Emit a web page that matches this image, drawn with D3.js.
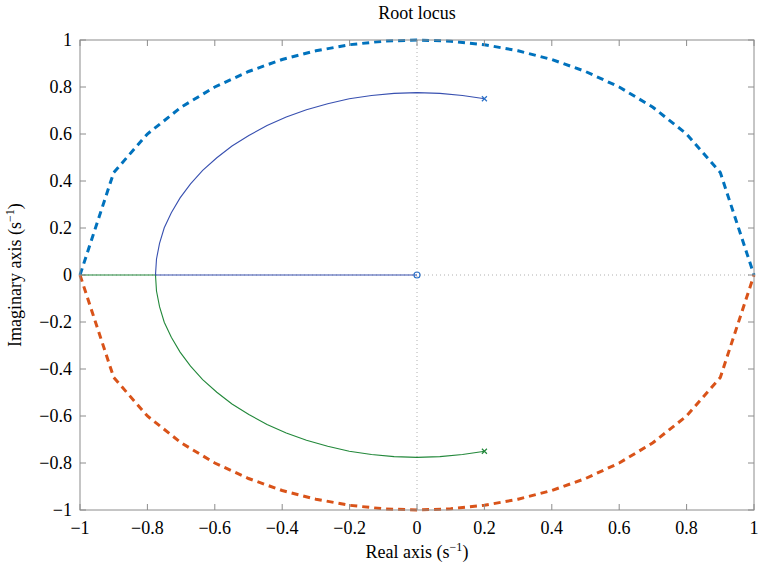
<!DOCTYPE html>
<html><head><meta charset="utf-8">
<script src="https://cdn.jsdelivr.net/npm/d3@7"></script>
<style>body{margin:0;background:#fff}svg{display:block}text{font-family:"Liberation Serif","DejaVu Serif",serif}</style>
</head><body><svg id="c" width="758" height="572"></svg>
<script>
// Unit circle (dashed), sampled at x step 0.1
const circX = [-1,-0.9,-0.8,-0.7,-0.6,-0.5,-0.4,-0.3,-0.2,-0.1,0,0.1,0.2,0.3,0.4,0.5,0.6,0.7,0.8,0.9,1];
const circUpper = [0,0.436,0.6,0.714,0.8,0.866,0.917,0.954,0.98,0.995,1,0.995,0.98,0.954,0.917,0.866,0.8,0.714,0.6,0.436,0];
const circLower = [0,-0.436,-0.6,-0.714,-0.8,-0.866,-0.917,-0.954,-0.98,-0.995,-1,-0.995,-0.98,-0.954,-0.917,-0.866,-0.8,-0.714,-0.6,-0.436,0];
// Arc of the locus (upper half)
const arcRe = [0.201,0.135,0.068,0,-0.068,-0.135,-0.201,-0.265,-0.328,-0.388,-0.445,-0.499,-0.549,-0.594,-0.636,-0.672,-0.703,-0.729,-0.750,-0.764,-0.773,-0.776];
const arcIm = [0.750,0.764,0.773,0.776,0.773,0.764,0.750,0.729,0.703,0.672,0.636,0.594,0.549,0.499,0.445,0.388,0.328,0.265,0.201,0.135,0.068,0];
// Branch 1: upper pole -> breakaway -> zero at origin
const branch1Re = arcRe.concat([-0.6,-0.4,-0.2,0]);
const branch1Im = arcIm.concat([0,0,0,0]);
// Branch 2: lower pole -> breakaway -> towards -inf
const branch2Re = arcRe.concat([-0.9,-1]);
const branch2Im = arcIm.map(v=>-v).concat([0,0]);
const polesRe = [0.2,0.2], polesIm = [0.75,-0.75];
const zerosRe = [0], zerosIm = [0];
const xTicks = [-1,-0.8,-0.6,-0.4,-0.2,0,0.2,0.4,0.6,0.8,1];
const yTicks = [-1,-0.8,-0.6,-0.4,-0.2,0,0.2,0.4,0.6,0.8,1];

const L=80,R=754,T=40,B=510;
const svg=d3.select("#c");
const x=d3.scaleLinear().domain([-1,1]).range([L,R]);
const y=d3.scaleLinear().domain([-1,1]).range([B,T]);
const fmt2=d=>{if(d===0)return"0";return (d<0?"\u2212":"")+String(Math.abs(d));};

// grid dotted
svg.append("line").attr("x1",x(0)).attr("x2",x(0)).attr("y1",T).attr("y2",B).attr("stroke","#b0b0b0").attr("stroke-dasharray","1,3");
svg.append("line").attr("x1",L).attr("x2",R).attr("y1",y(0)).attr("y2",y(0)).attr("stroke","#b0b0b0").attr("stroke-dasharray","1,3");

const line=d3.line().x(d=>x(d[0])).y(d=>y(d[1]));
const g=svg.append("g");
g.append("path").datum(branch2Re.map((v,i)=>[v,branch2Im[i]])).attr("d",line).attr("fill","none").attr("stroke","#22883a").attr("stroke-width",1.1);
g.append("path").datum(branch1Re.map((v,i)=>[v,branch1Im[i]])).attr("d",line).attr("fill","none").attr("stroke","#3850b0").attr("stroke-width",1.1);
g.append("path").datum(circX.map((v,i)=>[v,circUpper[i]])).attr("d",line).attr("fill","none").attr("stroke","#0072BD").attr("stroke-width",3).attr("stroke-dasharray","7,5");
g.append("path").datum(circX.map((v,i)=>[v,circLower[i]])).attr("d",line).attr("fill","none").attr("stroke","#D95319").attr("stroke-width",3).attr("stroke-dasharray","7,5");

// poles
const pc=["#2a70c8","#22883a"];
polesRe.forEach((v,i)=>{
  const cx=x(v),cy=y(polesIm[i]),s=2.5;
  svg.append("path").attr("d",`M${cx-s},${cy-s}L${cx+s},${cy+s}M${cx-s},${cy+s}L${cx+s},${cy-s}`).attr("stroke",pc[i]).attr("stroke-width",1.2);
});
zerosRe.forEach((v,i)=>{
  svg.append("circle").attr("cx",x(v)).attr("cy",y(zerosIm[i])).attr("r",3).attr("fill","none").attr("stroke","#2a70c8").attr("stroke-width",1.2);
});

// box and ticks
const ax="#8c8c8c";
svg.append("rect").attr("x",L).attr("y",T).attr("width",R-L).attr("height",B-T).attr("fill","none").attr("stroke",ax).attr("stroke-width",1);
xTicks.forEach(t=>{
  svg.append("line").attr("x1",x(t)).attr("x2",x(t)).attr("y1",B).attr("y2",B-6).attr("stroke",ax);
  svg.append("line").attr("x1",x(t)).attr("x2",x(t)).attr("y1",T).attr("y2",T+6).attr("stroke",ax);
  svg.append("text").attr("x",x(t)).attr("y",534).attr("text-anchor","middle").attr("font-size",18).text(fmt2(t));
});
yTicks.forEach(t=>{
  svg.append("line").attr("x1",L).attr("x2",L+6).attr("y1",y(t)).attr("y2",y(t)).attr("stroke",ax);
  svg.append("line").attr("x1",R).attr("x2",R-6).attr("y1",y(t)).attr("y2",y(t)).attr("stroke",ax);
  svg.append("text").attr("x",72).attr("y",y(t)+6).attr("text-anchor","end").attr("font-size",18).text(fmt2(t));
});
svg.append("text").attr("x",417).attr("y",19).attr("text-anchor","middle").attr("font-size",18).text("Root locus");
const xl=svg.append("text").attr("x",417).attr("y",558).attr("text-anchor","middle").attr("font-size",18);
xl.append("tspan").text("Real axis (s");
xl.append("tspan").attr("dy",-7).attr("font-size",12).text("\u22121");
xl.append("tspan").attr("dy",7).text(")");
const yl=svg.append("text").attr("transform","translate(21,275) rotate(-90)").attr("text-anchor","middle").attr("font-size",18);
yl.append("tspan").text("Imaginary axis (s");
yl.append("tspan").attr("dy",-7).attr("font-size",12).text("\u22121");
yl.append("tspan").attr("dy",7).text(")");
</script></body></html>
